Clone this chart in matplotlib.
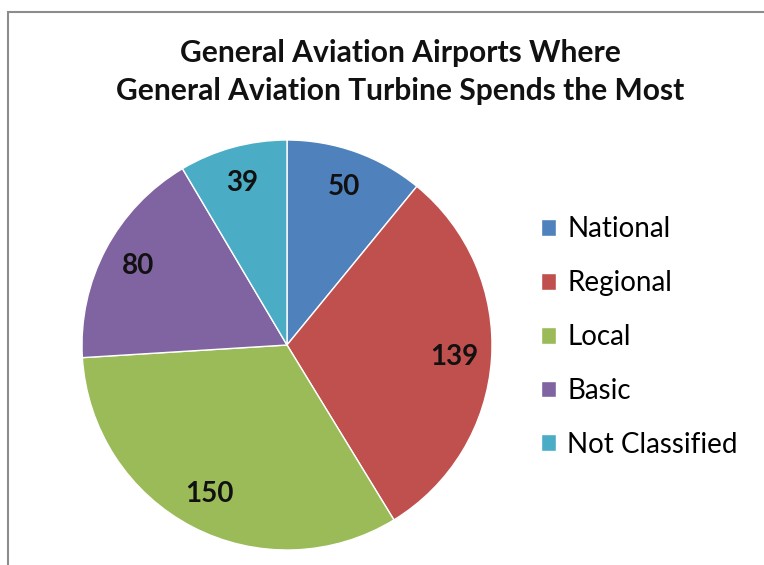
import matplotlib
matplotlib.use("Agg")
import matplotlib.pyplot as plt
from matplotlib.patches import Rectangle

categories = ["National", "Regional", "Local", "Basic", "Not Classified"]
values = [50, 139, 150, 80, 39]
colors = ["#4F81BD", "#C0504D", "#9BBB59", "#8064A2", "#4BACC6"]

W, H = 764, 565
plt.rcParams["font.family"] = ["Lato", "DejaVu Sans"]

fig = plt.figure(figsize=(W / 100, H / 100), dpi=100)
fig.patch.set_facecolor("white")

# pie area: center (287, 345) px, radius 205 px
cx, cy, r = 287, 345, 205
ax = fig.add_axes([(cx - r) / W, (H - cy - r) / H, 2 * r / W, 2 * r / H])

wedges, _, autotexts = ax.pie(
    values,
    colors=colors,
    startangle=90,
    counterclock=False,
    radius=1.0,
    autopct=lambda p: f"{round(p * sum(values) / 100):d}",
    pctdistance=0.82,
    wedgeprops=dict(edgecolor="white", linewidth=1.0),
    textprops=dict(fontsize=20, fontweight="bold", color="#111111"),
)
ax.set_xlim(-1, 1)
ax.set_ylim(-1, 1)
ax.set_aspect("equal")
ax.axis("off")

fig.text(400 / W, 1 - 72 / H, "General Aviation Airports Where\nGeneral Aviation Turbine Spends the Most",
         ha="center", va="center", fontsize=21.6, fontweight="bold", linespacing=1.4, color="#111111")

fig.legend(wedges, categories, loc="center left", bbox_to_anchor=(541 / W, 1 - 337 / H),
           frameon=False, fontsize=20, handlelength=0.55, handleheight=0.55,
           handletextpad=0.4, labelspacing=1.0, borderpad=0, borderaxespad=0)

# chart border (left and top edges visible)
fig.patches.append(Rectangle((8 / W, -0.1), 1.2, 1.1 - 12 / H, transform=fig.transFigure,
                             fill=False, edgecolor="#8c8c8c", linewidth=1.5))

fig.savefig("out.png", dpi=100)
